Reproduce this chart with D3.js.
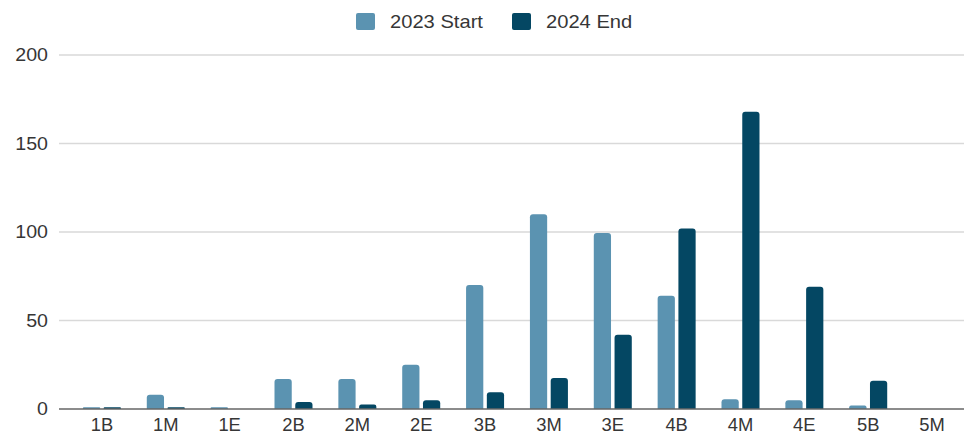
<!DOCTYPE html>
<html>
<head>
<meta charset="utf-8">
<script src="https://cdn.jsdelivr.net/npm/d3@7"></script>
<style>
  body { margin: 0; background: #fff; }
  svg { display: block; font-family: "Liberation Sans", Arial, sans-serif; }
</style>
</head>
<body>
<div id="chart"></div>
<script>
// Data
const categories = ['1B', '1M', '1E', '2B', '2M', '2E', '3B', '3M', '3E', '4B', '4M', '4E', '5B', '5M'];
const seriesNames = ['2023 Start', '2024 End'];
const start2023 = [1, 8, 1, 17, 17, 25, 70, 110, 99.5, 64, 5.5, 5, 2, 0];
const end2024 = [1, 1, 0, 4, 2.5, 5, 9.5, 17.5, 42, 102, 168, 69, 16, 0];
const yTicks = [0, 50, 100, 150, 200];
const colors = ['#5b93b1', '#044763'];

const width = 964, height = 435;
const gridLeft = 59, plotLeft = 70, plotRight = 964;
const yTop = 55, yBottom = 409;
const textColor = '#363636';

const svg = d3.select('#chart').append('svg')
    .attr('width', width)
    .attr('height', height);

const x0 = d3.scaleBand()
    .domain(categories)
    .range([plotLeft, plotRight])
    .paddingInner(0.405)
    .paddingOuter(0.2025);

const x1 = d3.scaleBand()
    .domain(seriesNames)
    .range([0, x0.bandwidth()])
    .paddingInner(0.17);

const y = d3.scaleLinear()
    .domain([0, 200])
    .range([yBottom, yTop]);

// stretch text a bit wider, the reference glyphs are broader than Liberation Sans
function widen(sel, factor) {
    sel.each(function() {
        const w = this.getComputedTextLength();
        d3.select(this)
            .attr('textLength', w * factor)
            .attr('lengthAdjust', 'spacingAndGlyphs');
    });
}

// Grid lines
svg.append('g')
    .selectAll('line')
    .data(yTicks.filter(d => d > 0))
    .enter().append('line')
    .attr('x1', gridLeft)
    .attr('x2', plotRight)
    .attr('y1', d => y(d))
    .attr('y2', d => y(d))
    .attr('stroke', '#d9d9d9')
    .attr('stroke-width', 1.3);

// Y tick labels
svg.append('g')
    .selectAll('text')
    .data(yTicks)
    .enter().append('text')
    .attr('x', 48)
    .attr('y', d => y(d))
    .attr('dy', '0.35em')
    .attr('text-anchor', 'end')
    .attr('font-size', 17.5)
    .attr('fill', textColor)
    .text(d => d)
    .call(widen, 1.12);

// Bars with rounded tops
function barPath(x, yv, w, h) {
    const r = Math.min(3, h / 2, w / 2);
    if (h <= 0) return '';
    return `M${x},${yv + h}V${yv + r}Q${x},${yv} ${x + r},${yv}H${x + w - r}Q${x + w},${yv} ${x + w},${yv + r}V${yv + h}Z`;
}

const series = [start2023, end2024];
const groups = svg.append('g')
    .selectAll('g')
    .data(categories)
    .enter().append('g')
    .attr('transform', d => `translate(${x0(d)},0)`);

groups.selectAll('path')
    .data((d, i) => seriesNames.map((s, k) => ({ s, k, v: series[k][i] })))
    .enter().append('path')
    .attr('fill', d => colors[d.k])
    .attr('d', d => barPath(x1(d.s), y(d.v), x1.bandwidth(), yBottom - y(d.v)));

// Baseline
svg.append('line')
    .attr('x1', gridLeft)
    .attr('x2', plotRight)
    .attr('y1', yBottom)
    .attr('y2', yBottom)
    .attr('stroke', '#666')
    .attr('stroke-width', 1.5);

// X axis labels
svg.append('g')
    .selectAll('text')
    .data(categories)
    .enter().append('text')
    .attr('x', d => x0(d) + x0.bandwidth() / 2)
    .attr('y', 431)
    .attr('text-anchor', 'middle')
    .attr('font-size', 17.5)
    .attr('fill', textColor)
    .text(d => d)
    .call(widen, 1.05);

// Legend
const legendX = [356, 512];
const legend = svg.append('g')
    .selectAll('g')
    .data(seriesNames)
    .enter().append('g')
    .attr('transform', (d, i) => `translate(${legendX[i]},13)`);

legend.append('rect')
    .attr('width', 19)
    .attr('height', 17)
    .attr('rx', 2)
    .attr('fill', (d, i) => colors[i]);

legend.append('text')
    .attr('x', 34)
    .attr('y', 8.5)
    .attr('dy', '0.35em')
    .attr('font-size', 19)
    .attr('fill', textColor)
    .text(d => d)
    .call(widen, 1.06);
</script>
</body>
</html>
